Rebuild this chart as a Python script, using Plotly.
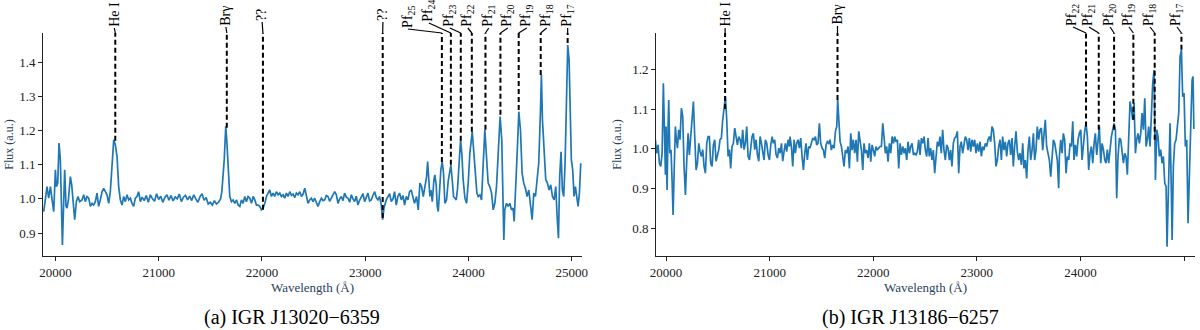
import plotly.graph_objects as go

# ---- spectrum (a) IGR J13020-6359 : wavelength (A) / normalised flux ----
a_wl = [19887, 19903, 19919, 19935, 19952, 19968, 19984, 20000, 20010, 20023,
        20035, 20048, 20058, 20068, 20081, 20090, 20103, 20113, 20126, 20145,
        20158, 20171, 20187, 20203, 20219, 20235, 20258, 20274, 20290, 20306,
        20323, 20339, 20355, 20371, 20387, 20403, 20419, 20435, 20452, 20468,
        20484, 20500, 20516, 20532, 20548, 20565, 20581, 20597, 20613, 20629,
        20645, 20661, 20677, 20694, 20710, 20726, 20742, 20758, 20774, 20790,
        20806, 20823, 20840, 20860, 20880, 20900, 20920, 20940, 20960, 20980,
        21000, 21020, 21040, 21060, 21080, 21100, 21120, 21140, 21160, 21180,
        21200, 21220, 21240, 21260, 21280, 21300, 21320, 21340, 21360, 21380,
        21400, 21420, 21440, 21460, 21480, 21500, 21520, 21540, 21560, 21580,
        21600, 21612, 21635, 21650, 21660, 21673, 21689, 21705, 21721, 21737,
        21754, 21770, 21786, 21802, 21818, 21834, 21850, 21866, 21883, 21899,
        21915, 21931, 21947, 21963, 21979, 21995, 22012, 22028, 22044, 22060,
        22076, 22092, 22108, 22124, 22140, 22157, 22173, 22189, 22205, 22221,
        22237, 22253, 22270, 22286, 22302, 22318, 22334, 22350, 22366, 22383,
        22399, 22415, 22431, 22447, 22463, 22479, 22495, 22511, 22527, 22543,
        22560, 22576, 22592, 22608, 22624, 22640, 22656, 22672, 22688, 22705,
        22721, 22737, 22753, 22769, 22785, 22801, 22818, 22834, 22850, 22866,
        22882, 22898, 22914, 22930, 22946, 22963, 22979, 22995, 23011, 23027,
        23043, 23059, 23075, 23092, 23108, 23124, 23140, 23156, 23169, 23182,
        23204, 23221, 23237, 23253, 23269, 23285, 23301, 23317, 23333, 23350,
        23366, 23382, 23398, 23414, 23430, 23446, 23462, 23478, 23498, 23514,
        23530, 23546, 23563, 23579, 23595, 23605, 23617, 23627, 23637, 23650,
        23666, 23675, 23688, 23698, 23708, 23721, 23733, 23746, 23759, 23772,
        23788, 23804, 23821, 23830, 23843, 23856, 23869, 23882, 23895, 23908,
        23924, 23937, 23949, 23966, 23982, 23998, 24014, 24037, 24053, 24069,
        24082, 24095, 24111, 24127, 24143, 24159, 24175, 24191, 24207, 24224,
        24240, 24256, 24272, 24288, 24307, 24323, 24333, 24343, 24352, 24369,
        24385, 24401, 24417, 24433, 24443, 24459, 24475, 24488, 24504, 24520,
        24536, 24552, 24568, 24585, 24601, 24617, 24633, 24649, 24665, 24681,
        24697, 24707, 24717, 24733, 24749, 24765, 24781, 24797, 24814, 24830,
        24846, 24859, 24872, 24884, 24897, 24910, 24923, 24936, 24949, 24962,
        24975, 24988, 24997, 25010, 25023, 25036, 25049, 25062, 25075, 25088]
a_flux = [0.963, 1.007, 1.036, 1.002, 1.036, 0.997, 0.963, 1.085, 1.036, 1.046,
          1.163, 1.114, 0.987, 0.865, 0.997, 1.085, 0.978, 0.973, 0.997, 1.065,
          1.041, 0.987, 0.939, 0.992, 1.007, 0.992, 0.997, 1.012, 0.992, 1.007,
          1.002, 0.978, 0.987, 0.982, 0.992, 1.017, 0.978, 0.997, 1.021, 1.031,
          1.021, 1.012, 0.987, 1.021, 1.095, 1.173, 1.158, 1.124, 1.036, 0.997,
          0.982, 1.007, 0.992, 1.012, 0.997, 1.002, 0.987, 0.978, 1.002, 1.007,
          1.021, 0.992, 1.005, 0.995, 1.010, 0.990, 1.012, 1.000, 0.993, 1.015,
          0.998, 1.008, 0.990, 1.004, 1.012, 0.996, 1.010, 0.994, 1.006, 1.000,
          1.014, 0.992, 1.005, 1.010, 0.997, 1.008, 0.995, 1.012, 1.000, 0.990,
          1.006, 1.015, 0.996, 1.004, 0.985, 0.990, 0.982, 0.995, 0.985, 0.990,
          1.000, 1.021, 1.114, 1.212, 1.170, 1.085, 1.007, 0.992, 0.997, 0.987,
          0.997, 0.982, 0.978, 0.997, 0.987, 1.007, 0.992, 1.007, 1.002, 0.987,
          1.007, 0.997, 0.982, 0.982, 0.978, 0.968, 0.973, 0.987, 1.007, 1.017,
          1.026, 1.007, 1.017, 1.007, 1.021, 1.012, 1.017, 1.007, 1.012, 1.002,
          1.017, 1.007, 1.021, 1.010, 1.014, 1.004, 1.017, 1.012, 1.021, 1.007,
          1.014, 1.031, 1.007, 0.987, 0.997, 1.002, 0.992, 1.002, 0.990, 0.978,
          0.992, 1.002, 0.995, 0.997, 1.010, 1.007, 0.993, 1.002, 1.012, 1.021,
          1.012, 0.987, 1.000, 1.007, 0.995, 1.017, 1.005, 1.002, 0.990, 1.012,
          1.000, 0.992, 1.008, 0.982, 0.996, 1.007, 1.015, 0.992, 1.003, 1.017,
          0.994, 0.997, 1.010, 1.021, 1.004, 0.997, 1.007, 0.982, 0.939, 0.973,
          0.997, 1.007, 1.015, 0.992, 1.000, 1.021, 0.982, 1.007, 1.017, 0.997,
          1.010, 0.982, 1.007, 0.997, 1.021, 1.026, 1.007, 0.987, 1.007, 0.968,
          1.046, 1.036, 1.007, 1.036, 1.065, 1.109, 1.065, 1.007, 1.026, 0.992,
          1.056, 1.070, 1.041, 0.978, 0.963, 1.046, 1.085, 1.109, 1.075, 0.987,
          0.997, 1.051, 1.085, 1.099, 1.056, 1.007, 1.002, 0.997, 1.031, 1.095,
          1.173, 1.129, 1.056, 1.002, 0.987, 1.046, 1.134, 1.197, 1.124, 1.046,
          1.017, 1.007, 1.012, 0.997, 1.085, 1.202, 1.124, 1.046, 1.036, 1.017,
          0.968, 0.987, 1.036, 1.124, 1.241, 1.173, 1.026, 0.880, 0.968, 0.987,
          0.978, 0.987, 0.968, 0.973, 0.934, 1.026, 1.153, 1.255, 1.202, 1.075,
          1.046, 1.031, 1.007, 1.026, 0.978, 0.939, 1.017, 1.007, 1.056, 1.104,
          1.250, 1.363, 1.231, 1.134, 1.056, 1.046, 1.026, 1.041, 1.007, 0.997,
          1.036, 0.948, 0.885, 1.065, 1.138, 1.026, 1.007, 1.104, 1.299, 1.450,
          1.406, 1.202, 1.114, 1.085, 1.007, 1.036, 0.997, 0.978, 1.017, 1.104]

# ---- spectrum (b) IGR J13186-6257 ----
b_wl = [19897, 19910, 19923, 19936, 19949, 19962, 19974, 19984, 19994, 20000,
        20010, 20019, 20026, 20036, 20048, 20058, 20068, 20077, 20090, 20100,
        20110, 20122, 20135, 20148, 20161, 20174, 20187, 20200, 20213, 20225,
        20238, 20251, 20264, 20277, 20290, 20303, 20316, 20328, 20341, 20354,
        20367, 20380, 20393, 20406, 20418, 20431, 20444, 20457, 20470, 20483,
        20496, 20509, 20521, 20534, 20547, 20560, 20573, 20586, 20599, 20612,
        20624, 20637, 20650, 20663, 20676, 20689, 20702, 20715, 20727, 20740,
        20753, 20766, 20779, 20792, 20805, 20818, 20830, 20843, 20856, 20869,
        20882, 20895, 20908, 20921, 20933, 20946, 20959, 20972, 20985, 20998,
        21011, 21024, 21036, 21049, 21062, 21075, 21088, 21101, 21114, 21126,
        21139, 21152, 21165, 21178, 21191, 21197, 21210, 21223, 21236, 21248,
        21261, 21274, 21287, 21300, 21313, 21326, 21339, 21351, 21364, 21377,
        21390, 21403, 21416, 21429, 21442, 21454, 21467, 21480, 21493, 21506,
        21519, 21532, 21545, 21557, 21570, 21583, 21596, 21609, 21622, 21635,
        21648, 21657, 21667, 21680, 21693, 21705, 21718, 21731, 21744, 21757,
        21770, 21783, 21796, 21808, 21821, 21834, 21847, 21860, 21873, 21886,
        21899, 21911, 21924, 21937, 21950, 21963, 21976, 21989, 22002, 22014,
        22027, 22040, 22053, 22066, 22079, 22092, 22104, 22117, 22130, 22143,
        22156, 22169, 22182, 22195, 22207, 22220, 22233, 22246, 22259, 22272,
        22285, 22298, 22310, 22323, 22336, 22349, 22362, 22375, 22388, 22401,
        22413, 22426, 22439, 22452, 22465, 22478, 22491, 22503, 22516, 22529,
        22541, 22554, 22567, 22580, 22593, 22606, 22619, 22632, 22644, 22657,
        22670, 22683, 22696, 22709, 22722, 22735, 22747, 22760, 22773, 22786,
        22799, 22812, 22825, 22838, 22850, 22863, 22876, 22889, 22902, 22915,
        22928, 22941, 22953, 22966, 22979, 22992, 23005, 23018, 23031, 23044,
        23056, 23069, 23082, 23095, 23108, 23121, 23134, 23146, 23159, 23172,
        23185, 23198, 23211, 23224, 23237, 23249, 23262, 23275, 23288, 23301,
        23314, 23327, 23340, 23352, 23365, 23378, 23391, 23404, 23417, 23430,
        23443, 23455, 23468, 23481, 23494, 23507, 23520, 23533, 23546, 23558,
        23571, 23584, 23597, 23610, 23623, 23636, 23648, 23661, 23674, 23687,
        23700, 23713, 23726, 23739, 23752, 23764, 23777, 23790, 23797, 23810,
        23823, 23835, 23848, 23861, 23874, 23887, 23900, 23913, 23926, 23938,
        23951, 23964, 23977, 23990, 24003, 24016, 24029, 24041, 24054, 24067,
        24080, 24093, 24106, 24119, 24132, 24144, 24157, 24170, 24183, 24196,
        24209, 24222, 24235, 24247, 24260, 24273, 24286, 24299, 24312, 24325,
        24338, 24350, 24363, 24376, 24389, 24402, 24415, 24428, 24440, 24453,
        24466, 24479, 24492, 24505, 24518, 24531, 24543, 24556, 24569, 24582,
        24595, 24608, 24621, 24634, 24646, 24659, 24672, 24685, 24698, 24711,
        24724, 24737, 24749, 24762, 24775, 24788, 24801, 24814, 24827, 24836,
        24852, 24865, 24878, 24885, 24897, 24910, 24923, 24936, 24949, 24962,
        24975, 24987, 25000, 25013, 25026, 25039, 25052, 25065, 25078, 25087,
        25095]
b_flux = [1.023, 0.989, 1.010, 0.964, 0.956, 0.989, 1.165, 1.048, 0.935, 1.056,
          0.897, 1.048, 1.123, 0.989, 0.998, 0.922, 0.834, 0.930, 1.056, 1.023,
          1.002, 1.048, 1.023, 1.102, 1.081, 0.956, 0.884, 0.972, 1.039, 0.985,
          1.023, 1.064, 1.119, 1.031, 0.947, 0.964, 1.014, 0.993, 0.981, 0.998,
          0.956, 0.939, 1.014, 1.031, 1.031, 0.964, 0.956, 1.010, 1.023, 0.969,
          0.981, 0.998, 1.023, 1.027, 1.073, 1.111, 1.131, 1.073, 0.981, 0.998,
          0.951, 1.006, 1.014, 1.052, 1.023, 1.010, 1.031, 1.023, 1.002, 1.048,
          0.998, 1.014, 1.056, 0.981, 0.972, 1.006, 1.031, 1.039, 0.998, 1.023,
          0.985, 0.969, 1.031, 1.014, 0.989, 0.972, 1.023, 1.014, 0.985, 0.972,
          1.010, 1.031, 1.014, 1.023, 0.985, 0.977, 1.002, 0.989, 1.014, 0.969,
          0.993, 1.014, 0.993, 1.023, 1.006, 1.031, 1.006, 0.956, 1.023, 0.989,
          1.014, 1.023, 1.002, 1.027, 0.981, 0.947, 0.989, 1.014, 0.972, 1.006,
          1.002, 1.018, 1.027, 1.023, 1.031, 1.010, 1.014, 1.064, 1.014, 1.002,
          0.997, 0.977, 1.010, 1.018, 1.014, 1.023, 0.997, 1.010, 1.002, 1.044,
          1.056, 1.123, 1.064, 1.018, 1.006, 0.972, 0.956, 0.997, 0.989, 1.006,
          0.951, 1.039, 0.997, 1.023, 0.989, 1.023, 0.968, 1.044, 1.014, 0.997,
          0.947, 1.014, 0.989, 0.997, 0.977, 1.014, 0.968, 1.010, 0.997, 0.981,
          1.006, 0.997, 1.002, 1.006, 1.006, 1.064, 1.031, 0.989, 1.006, 0.968,
          1.014, 0.989, 1.031, 1.014, 1.031, 1.018, 1.023, 0.951, 1.014, 0.985,
          1.006, 0.989, 1.002, 0.972, 1.018, 0.989, 1.006, 1.014, 0.985, 0.989,
          0.985, 0.993, 1.023, 0.985, 1.027, 1.014, 1.031, 0.997, 0.981, 1.027,
          0.981, 1.002, 0.972, 0.997, 0.939, 0.989, 1.018, 1.006, 1.031, 0.989,
          1.048, 0.997, 0.972, 1.010, 1.002, 0.972, 0.997, 0.956, 1.014, 1.027,
          1.031, 1.044, 0.939, 1.006, 1.018, 0.989, 1.014, 1.031, 1.023, 0.997,
          1.027, 0.993, 1.023, 1.006, 1.023, 0.989, 1.014, 0.993, 1.018, 0.981,
          1.006, 0.997, 1.014, 1.006, 1.023, 1.031, 1.018, 1.056, 1.048, 1.014,
          0.956, 0.972, 1.006, 1.023, 0.972, 1.031, 0.997, 1.018, 0.981, 1.014,
          1.023, 0.985, 1.027, 0.956, 1.006, 1.044, 0.993, 0.972, 0.989, 0.960,
          1.014, 0.951, 0.972, 0.926, 0.997, 1.031, 0.972, 0.997, 1.039, 0.972,
          0.997, 1.056, 1.023, 1.048, 1.052, 0.997, 1.035, 1.073, 1.006, 0.989,
          0.972, 0.930, 0.989, 1.023, 1.014, 0.997, 0.972, 0.901, 0.981, 1.023,
          0.989, 1.039, 1.023, 0.939, 0.981, 0.972, 1.014, 1.006, 1.069, 0.972,
          1.010, 0.981, 1.023, 1.039, 1.048, 0.972, 1.014, 1.044, 1.064, 1.031,
          0.947, 0.989, 1.006, 0.964, 1.014, 1.039, 0.985, 1.031, 1.056, 0.964,
          1.014, 0.998, 0.972, 0.964, 0.998, 0.964, 1.006, 1.031, 1.048, 1.064,
          1.048, 0.876, 0.981, 1.027, 1.023, 0.989, 0.964, 0.989, 0.981, 0.935,
          1.014, 1.119, 1.098, 1.073, 1.115, 0.989, 1.023, 1.039, 1.014, 1.039,
          1.090, 1.048, 1.127, 1.006, 1.023, 1.056, 1.006, 1.098, 1.165, 1.198,
          0.922, 1.048, 1.031, 0.981, 0.998, 0.964, 0.981, 0.914, 0.905, 0.754,
          0.964, 1.064, 0.889, 0.771, 0.956, 1.014, 1.023, 1.064, 1.090, 1.232,
          1.249, 1.131, 1.140, 1.006, 1.023, 0.813, 0.969, 1.056, 1.173, 1.182,
          1.050]

# ---- identified lines: name, line wavelength, flux where the marker ends ----
a_line_names = ["He I", "Brγ", "??", "??", "Pf<sub>25</sub>", "Pf<sub>24</sub>", "Pf<sub>23</sub>",
                "Pf<sub>22</sub>", "Pf<sub>21</sub>", "Pf<sub>20</sub>", "Pf<sub>19</sub>",
                "Pf<sub>18</sub>", "Pf<sub>17</sub>"]
a_line_wl = [20580, 21660, 22010, 23170, 23743, 23830, 23926, 24033, 24165, 24310, 24487, 24700, 24961]
a_line_flux = [1.170, 1.208, 0.968, 0.944, 1.108, 1.100, 1.170, 1.196, 1.202, 1.246, 1.260, 1.362, 1.456]

b_line_names = ["He I", "Brγ", "Pf<sub>22</sub>", "Pf<sub>21</sub>", "Pf<sub>20</sub>",
                "Pf<sub>19</sub>", "Pf<sub>18</sub>", "Pf<sub>17</sub>"]
b_line_wl = [20570, 21655, 24054, 24177, 24325, 24511, 24717, 24975]
b_line_flux = [1.100, 1.123, 1.056, 1.048, 1.048, 1.073, 1.023, 1.249]

captions = ["(a) IGR J13020\u22126359", "(b) IGR J13186\u22126257"]
x_ticks = [20000, 21000, 22000, 23000, 24000, 25000]
a_y_ticks = [0.9, 1.0, 1.1, 1.2, 1.3, 1.4]
b_y_ticks = [0.8, 0.9, 1.0, 1.1, 1.2]

# label placement (label x in wavelength, label bottom in px from top); crowded ones nudged
a_label_x = [20571, 21651, 22002, 23172, 23414, 23617, 23820, 23994, 24197, 24381, 24565, 24758, 24961]
a_label_bot = [28, 27, 22, 22, 29, 23, 28, 28, 28, 28, 28, 28, 28]
b_label_x = [20570, 21655, 23929, 24083, 24286, 24469, 24672, 24932]
b_label_bot = [28, 26, 27, 27, 27, 27, 27, 27]

H = 330
FONT = "Liberation Serif"
BLUE = "#1f77b4"
AX = "#222222"

fig = go.Figure()
fig.add_trace(go.Scatter(x=a_wl, y=a_flux, mode="lines", line=dict(color=BLUE, width=1.7),
                         xaxis="x", yaxis="y", showlegend=False))
fig.add_trace(go.Scatter(x=b_wl, y=b_flux, mode="lines", line=dict(color=BLUE, width=1.7),
                         xaxis="x2", yaxis="y2", showlegend=False))

ydom = [1 - 256 / H, 1 - 33 / H]
axis_common = dict(showline=True, linecolor=AX, linewidth=1, ticks="outside", ticklen=4,
                   tickwidth=1, tickcolor=AX, showgrid=False, zeroline=False, mirror=False,
                   automargin=False, tickfont=dict(family=FONT, size=13, color="#222"))
a_range = [0.833, 1.485]
b_range = [0.731, 1.291]
fig.update_layout(
    width=1200, height=H, margin=dict(l=0, r=0, t=0, b=0),
    plot_bgcolor="white", paper_bgcolor="white",
    xaxis=dict(domain=[43 / 1200, 582 / 1200], range=[19880, 25100], tickvals=x_ticks, tickformat="d",
               anchor="y", title=dict(text="Wavelength (Å)", font=dict(family=FONT, size=13), standoff=4),
               **axis_common),
    yaxis=dict(domain=ydom, range=a_range, tickvals=a_y_ticks, tickformat=".1f", anchor="x",
               title=dict(text="Flux (a.u.)", font=dict(family=FONT, size=12), standoff=2),
               **axis_common),
    xaxis2=dict(domain=[656 / 1200, 1195 / 1200], range=[19903, 25106], tickvals=x_ticks, tickformat="d",
                anchor="y2", title=dict(text="Wavelength (Å)", font=dict(family=FONT, size=13), standoff=4),
                **axis_common),
    yaxis2=dict(domain=ydom, range=b_range, tickvals=b_y_ticks, tickformat=".1f", anchor="x2",
                title=dict(text="Flux (a.u.)", font=dict(family=FONT, size=12), standoff=7),
                **axis_common),
)

shapes = []
annotations = []
panels = [("x", "y", a_range, a_line_names, a_line_wl, a_line_flux, a_label_x, a_label_bot),
          ("x2", "y2", b_range, b_line_names, b_line_wl, b_line_flux, b_label_x, b_label_bot)]
for xr, yr, rng, names, wls, fl, lx, lb in panels:
    for name, wl, f, tx, bot in zip(names, wls, fl, lx, lb):
        shapes.append(dict(type="line", xref=xr, yref=yr, x0=wl, x1=wl, y0=f, y1=rng[1],
                           line=dict(color="black", width=2, dash="5px,3px")))
        shapes.append(dict(type="line", xref=xr, yref="paper", x0=wl, x1=tx,
                           y0=ydom[1], y1=1 - bot / H, line=dict(color="black", width=1.2)))
        annotations.append(dict(text=name, xref=xr, yref="paper", x=tx, y=1 - bot / H,
                                xanchor="center", yanchor="bottom", textangle=-90, showarrow=False,
                                font=dict(family=FONT, size=14, color="black"), borderpad=0))

for cap, cx in zip(captions, [292 / 1200, 910 / 1200]):
    annotations.append(dict(text=cap, xref="paper", yref="paper", x=cx, y=1 - 317 / H,
                            xanchor="center", yanchor="middle", showarrow=False,
                            font=dict(family=FONT, size=20, color="black")))

fig.update_layout(shapes=shapes, annotations=annotations)
fig.write_html("out.html", config={"displayModeBar": False},
               post_script="document.body.style.margin='0';")
